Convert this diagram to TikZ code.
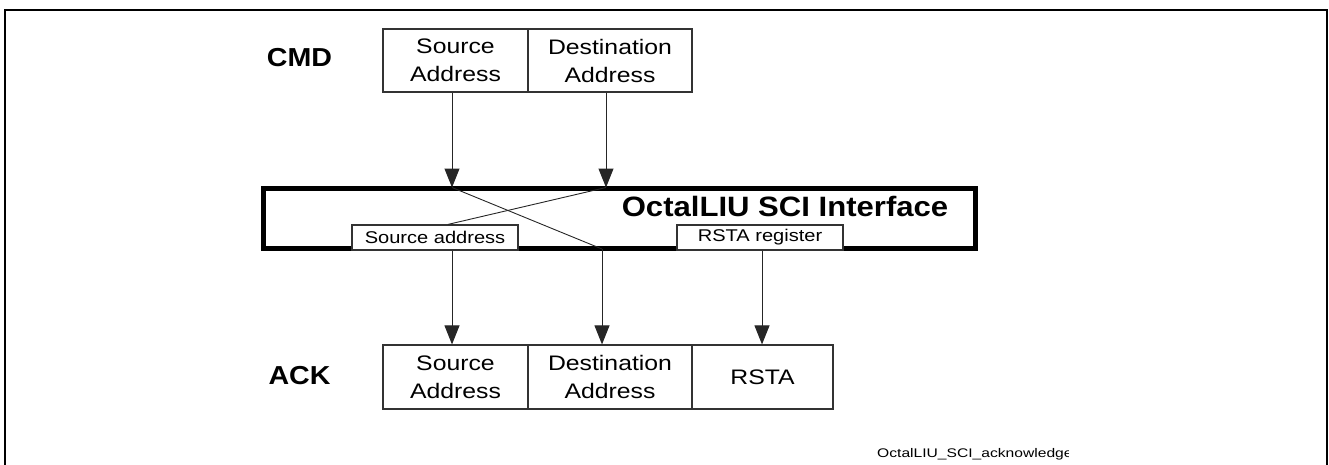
\documentclass[tikz,border=0pt]{standalone}
\usepackage{fontspec}
\setmainfont{Liberation Sans}
\usepackage{graphicx}
\usetikzlibrary{arrows.meta}
\newcommand\hx[2]{\scalebox{#1}[1]{#2}}

\begin{document}
\begin{tikzpicture}[x=1pt,y=-1pt,
  field/.style={draw=black!80, line width=1.2pt, fill=white, inner sep=0pt,
    minimum height=63pt, align=center, font=\fontsize{21}{28}\selectfont},
  reg/.style={draw=black!80, line width=1.2pt, fill=white, inner sep=0pt,
    minimum height=25pt, minimum width=166pt, font=\fontsize{17}{20}\selectfont},
  lbl/.style={inner sep=0pt, font=\bfseries\fontsize{26}{30}\selectfont},
  flow/.style={line width=1pt, draw=black!85, -{Triangle[length=19pt,width=15pt]}},
  cross/.style={line width=0.9pt, draw=black!85},
  frame/.style={line width=2pt}
]
\useasboundingbox (0,0) rectangle (1329,464);
\draw[frame] (5,470) -- (5,10) -- (1327,10) -- (1327,470);

% CMD row
\node[lbl] (cmd) at (299.5,57.5) {\hx{1.1}{CMD}};
\node[field, minimum width=145pt] (cs) at (455.5,60.5) {\hx{1.18}{Source}\\\hx{1.18}{Address}};
\node[field, minimum width=164pt] (cd) at (610,60.5) {\hx{1.18}{Destination}\\\hx{1.18}{Address}};

% interface
\node[draw, line width=4.5pt, minimum width=712pt, minimum height=60pt, inner sep=0pt] (sci) at (619.5,218.5) {};
\node[inner sep=0pt, font=\bfseries\fontsize{28}{32}\selectfont] (title) at (785,206) {\hx{1.11}{OctalLIU SCI Interface}};
\node[reg] (sa) at (435,237.5) {\hx{1.18}{Source address}};
\node[reg] (rr) at (760,237.5) {\hx{1.18}{RSTA register}};

\coordinate (srcin) at (452,187.5);
\coordinate (dstin) at (606,187.5);
\coordinate (dstout) at (602,249);

% ACK row
\node[lbl] (ack) at (299.5,376) {\hx{1.1}{ACK}};
\node[field, minimum width=145pt, minimum height=64pt] (as) at (455.5,377) {\hx{1.18}{Source}\\\hx{1.18}{Address}};
\node[field, minimum width=164pt, minimum height=64pt] (ad) at (610,377) {\hx{1.18}{Destination}\\\hx{1.18}{Address}};
\node[field, minimum width=141pt, minimum height=64pt] (rs) at (762.5,377) {\hx{1.18}{RSTA}};

% connectors
\draw[flow] (cs.south -| srcin) -- (srcin);
\draw[flow] (cd.south -| dstin) -- (dstin);
\draw[cross] (srcin) -- (dstout);
\draw[cross] (dstin) -- ([xshift=13pt]sa.north);
\draw[flow] (sa.south -| srcin) -- (as.north -| srcin);
\draw[flow] (dstout) -- (ad.north -| dstout);
\draw[flow] (rr.south -| 762,0) -- (rs.north -| 762,0);

% footer
\begin{scope}
\clip (860,435) rectangle (1068,470);
\node[anchor=west, inner sep=0pt, font=\fontsize{12.5}{15}\selectfont] (foot) at (877,454) {\hx{1.25}{OctalLIU\_SCI\_acknowledge}};
\end{scope}
\end{tikzpicture}
\end{document}
